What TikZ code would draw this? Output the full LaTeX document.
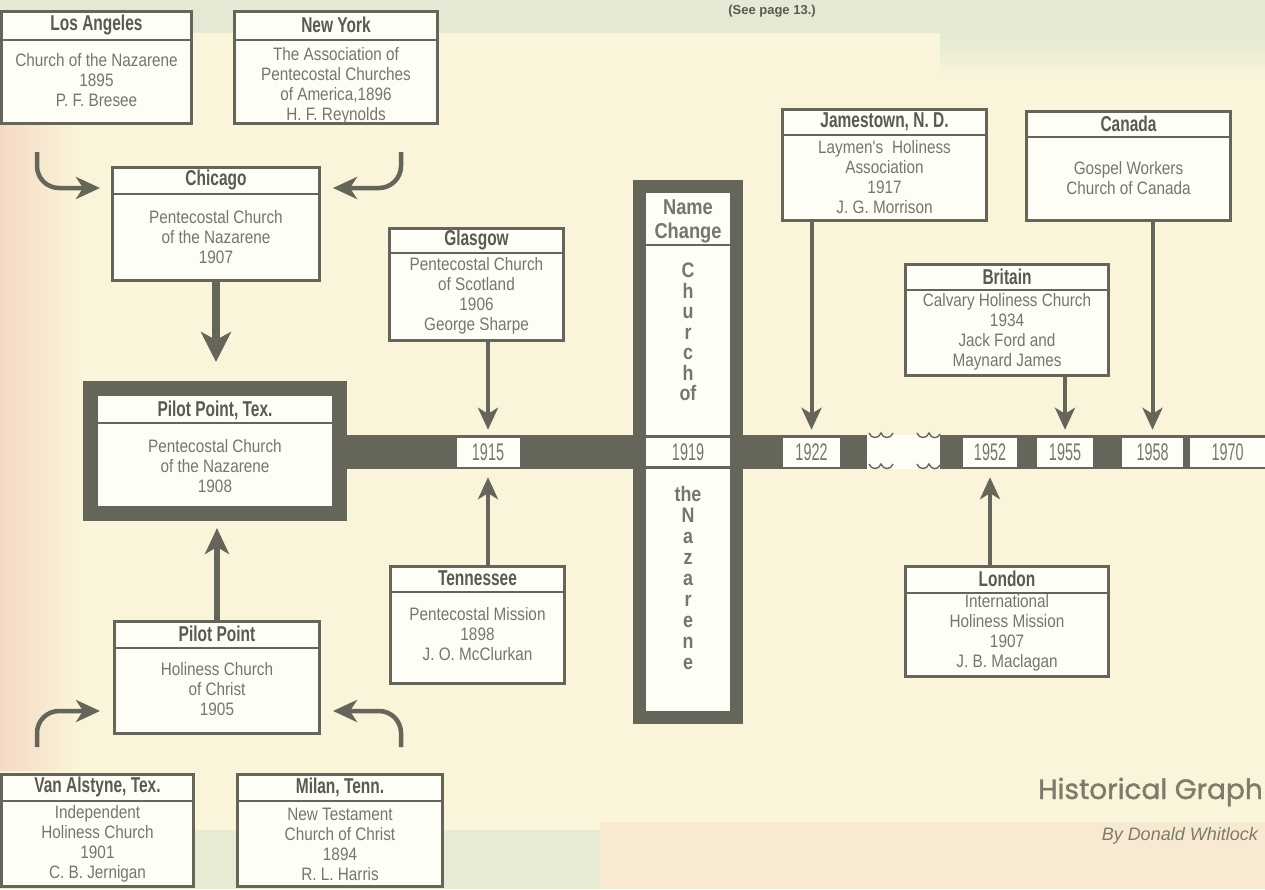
\documentclass[tikz,border=0pt]{standalone}
\usepackage{fontspec}
\setmainfont{Liberation Sans}
\newfontfamily\bodyf{Liberation Sans}[FakeStretch=0.85]
\newfontfamily\titlef{Liberation Sans}[FakeStretch=0.72]
\newfontfamily\colf{Liberation Sans}[FakeStretch=0.85]
\newfontfamily\yearf{Liberation Sans}[FakeStretch=0.6]
\newfontfamily\headf{Poppins}[FakeBold=1.2]
\usetikzlibrary{arrows.meta,calc}
\definecolor{ink}{HTML}{66655A}
\definecolor{txt}{HTML}{77766A}
\definecolor{ttl}{HTML}{5A5A4F}
\definecolor{cream}{HTML}{FAF5DA}
\definecolor{paper}{HTML}{FFFEF6}
\definecolor{greenbg}{HTML}{E3E9D2}
\definecolor{pinkbg}{HTML}{F4DAC6}
\definecolor{headc}{HTML}{7D7B69}
\newcommand{\tbox}[9]{%
  \node[frame, minimum width={(#4-#2-2.6)*1pt}, minimum height={(#5-#3-2.6)*1pt}] (#1) at ({(#2+#4)/2},{(#3+#5)/2}) {};
  \draw[divl] (#2,#6) -- (#4,#6);
  \node[ttext] (#1-t) at ({(#2+#4)/2},{(#3+#6)/2}) {#7};
  \node[btext] (#1-b) at ({(#2+#4)/2},#9) {#8};
}
\tikzset{
  frame/.style={draw=ink, line width=2.6pt, fill=paper, inner sep=0pt},
  divl/.style={draw=ink, line width=2.4pt},
  ttext/.style={text=ttl, font=\titlef\bfseries\fontsize{21.5}{24}\selectfont, inner sep=0pt},
  btext/.style={text=txt, font=\bodyf\fontsize{18}{20}\selectfont, align=center, inner sep=0pt},
  coltext/.style={text=txt, font=\colf\bfseries\fontsize{21}{20.5}\selectfont, align=center, inner sep=0pt},
  yearbox/.style={fill=paper, inner sep=0pt, minimum height=29pt, text=txt, font=\yearf\fontsize{24}{26}\selectfont},
  barrow/.style={draw=ink, line width=8pt, -{Stealth[length=30pt,width=30pt,inset=8pt]}},
  marrow/.style={draw=ink, line width=6pt, -{Stealth[length=26pt,width=24pt,inset=7pt]}},
  tarrow/.style={draw=ink, line width=4pt, -{Stealth[length=22pt,width=20pt,inset=6pt]}},
  carrow/.style={draw=ink, line width=4.5pt, rounded corners=22pt, -{Stealth[length=24pt,width=22pt,inset=7pt]}},
  wave/.style={draw=ink, line width=1.4pt},
}
\begin{document}
\begin{tikzpicture}[x=1pt,y=-1pt]
% background
\fill[cream] (0,0) rectangle (1265,889);
\fill[greenbg] (0,0) rectangle (1265,33);
\shade[top color=greenbg,bottom color=cream] (940,33) rectangle (1265,80);
\shade[left color=pinkbg,right color=cream] (0,33) rectangle (80,770);
\fill[greenbg!85!cream] (0,830) rectangle (600,889);
\fill[pinkbg!40!cream] (600,822) rectangle (1265,889);
\useasboundingbox (0,0) rectangle (1265,889);

\node[font=\bfseries\fontsize{13}{15}\selectfont, text=ttl] (see) at (772,11) {(See page 13.)};

% timeline bar
\fill[ink] (347,435) rectangle (867,469);
\fill[ink] (940,435) rectangle (1265,469);
\fill[paper] (867,435) rectangle (940,469);
\draw[wave] (869,433) .. controls (871,439) and (879,439) .. (881,433) .. controls (883,439) and (891,439) .. (893,433);
\draw[wave] (917,433) .. controls (919,439) and (927,439) .. (929,433) .. controls (931,439) and (938,439) .. (940,434);
\draw[wave] (869,464) .. controls (871,470) and (879,470) .. (881,464) .. controls (883,470) and (891,470) .. (893,464);
\draw[wave] (917,464) .. controls (919,470) and (927,470) .. (929,464) .. controls (931,470) and (938,470) .. (940,465);

% year boxes
\node[yearbox, minimum width=63pt] (y1915) at (488,452.5) {1915};
\node[yearbox, minimum width=57pt] (y1922) at (811.5,452.5) {1922};
\node[yearbox, minimum width=54pt] (y1952) at (990,452.5) {1952};
\node[yearbox, minimum width=56pt] (y1955) at (1065,452.5) {1955};
\node[yearbox, minimum width=61pt] (y1958) at (1152.5,452.5) {1958};
\node[yearbox, minimum width=75pt] (y1970) at (1227.5,452.5) {1970};

% Pilot Point, Tex. (heavy box)
\node[draw=ink, line width=15pt, fill=paper, minimum width=249pt, minimum height=125pt, inner sep=0pt] (ppt) at (215,451) {};
\draw[divl] (98,423) -- (332,423);
\node[ttext] (ppt-t) at (215,410) {Pilot Point, Tex.};
\node[btext] (ppt-b) at (215,466) {Pentecostal Church\\of the Nazarene\\1908};

% Name change column
\node[draw=ink, line width=13pt, fill=paper, minimum width=97pt, minimum height=531pt, inner sep=0pt] (col) at (688,452) {};
\draw[divl] (646,245) -- (731,245);
\draw[ink, line width=3pt] (646,436.5) -- (731,436.5);
\draw[ink, line width=3pt] (646,467.5) -- (731,467.5);
\node[coltext, font=\colf\bfseries\fontsize{21.5}{24}\selectfont] (nc) at (688,221) {Name\\Change};
\node[coltext] (c1) at (688,332) {C\\h\\u\\r\\c\\h\\of};
\node[yearbox, fill=none] (y1919) at (688,452.5) {1919};
\node[coltext, font=\colf\bfseries\fontsize{21}{21}\selectfont] (c2) at (688,578) {the\\N\\a\\z\\a\\r\\e\\n\\e};

% boxes
\tbox{la}{0}{10}{193}{125}{40}{Los Angeles}{Church of the Nazarene\\1895\\P. F. Bresee}{80}
\tbox{ny}{233}{10}{439}{125}{40}{New York}{The Association of\\Pentecostal Churches\\of America,1896\\H. F. Reynolds}{86}
\tbox{chi}{111}{166}{321}{282}{194}{Chicago}{Pentecostal Church\\of the Nazarene\\1907}{237}
\tbox{gla}{388}{227}{565}{342}{253}{Glasgow}{Pentecostal Church\\of Scotland\\1906\\George Sharpe}{296}
\tbox{ten}{389}{565}{566}{685}{592}{Tennessee}{Pentecostal Mission\\1898\\J. O. McClurkan}{634}
\tbox{pp}{113}{620}{321}{735}{648}{Pilot Point}{Holiness Church\\of Christ\\1905}{689}
\tbox{va}{0}{773}{195}{888}{801}{Van Alstyne, Tex.}{Independent\\Holiness Church\\1901\\C. B. Jernigan}{844}
\tbox{mil}{236}{773}{444}{888}{801}{Milan, Tenn.}{New Testament\\Church of Christ\\1894\\R. L. Harris}{844}
\tbox{jam}{781}{108}{988}{222}{135}{Jamestown, N. D.}{Laymen's\enspace Holiness\\Association\\1917\\J. G. Morrison}{177}
\tbox{can}{1025}{110}{1232}{222}{137}{Canada}{Gospel Workers\\Church of Canada}{178}
\tbox{bri}{904}{263}{1110}{377}{290}{Britain}{Calvary Holiness Church\\1934\\Jack Ford and\\Maynard James}{332}
\tbox{lon}{904}{565}{1110}{678}{593}{London}{International\\Holiness Mission\\1907\\J. B. Maclagan}{633}

% connectors
\draw[barrow, shorten >=19pt] (chi.south) -- (chi.south |- ppt.north);
\draw[marrow, shorten >=7pt] (pp.north) -- (pp.north |- ppt.south);
\draw[tarrow, shorten >=8pt] (y1915.north |- gla.south) -- (y1915.north);
\draw[tarrow, shorten >=10pt] (y1915.south |- ten.north) -- (y1915.south);
\draw[tarrow, shorten >=8pt] (y1922.north |- jam.south) -- (y1922.north);
\draw[tarrow, shorten >=8pt] (y1958.north |- can.south) -- (y1958.north);
\draw[tarrow, shorten >=8pt] (y1955.north |- bri.south) -- (y1955.north);
\draw[tarrow, shorten >=10pt] (y1952.south |- lon.north) -- (y1952.south);

\coordinate (la-a) at (37,152);
\coordinate (ny-a) at (401,152);
\coordinate (va-a) at (37,747);
\coordinate (mil-a) at (401,747);
\draw[carrow] (la-a) |- ($(chi.north west)+(-11,22)$);
\draw[carrow] (ny-a) |- ($(chi.north east)+(12,22)$);
\draw[carrow] (va-a) |- ($(pp.north west)+(-13,91)$);
\draw[carrow] (mil-a) |- ($(pp.north east)+(12,91)$);

% title
\node[anchor=east, text=headc, font=\headf\fontsize{28}{32}\selectfont, inner sep=0pt] (title) at (1263,792) {Historical Graph};
\node[anchor=east, text=headc, font=\itshape\fontsize{18}{20}\selectfont, inner sep=0pt] (by) at (1258,836) {By Donald Whitlock};
\end{tikzpicture}
\end{document}
